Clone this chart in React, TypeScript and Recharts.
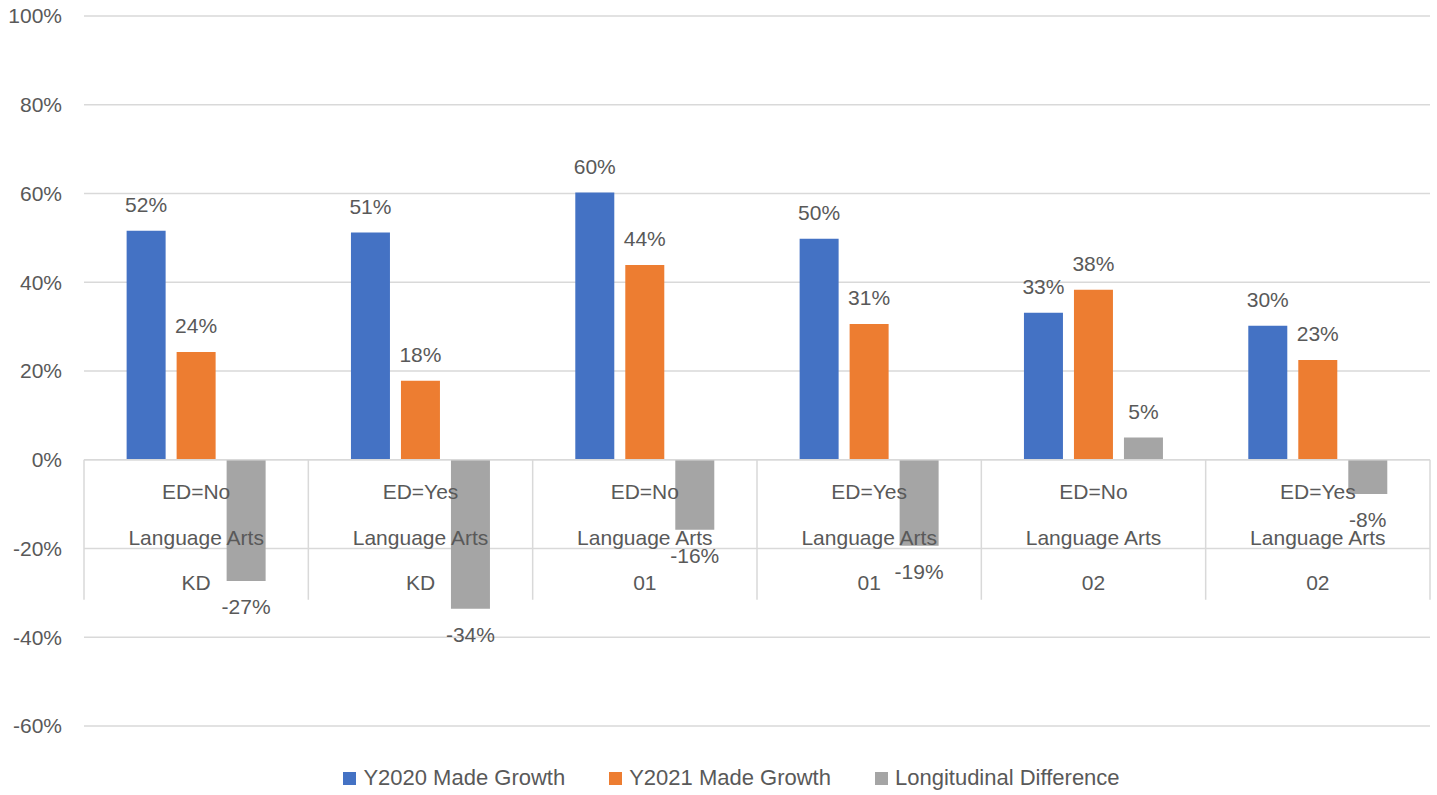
import React from "react";
import { BarChart, Bar, XAxis, YAxis, CartesianGrid, Legend, LabelList, ReferenceLine } from "recharts";

const edStatus = ["ED=No", "ED=Yes", "ED=No", "ED=Yes", "ED=No", "ED=Yes"];
const subjects = ["Language Arts", "Language Arts", "Language Arts", "Language Arts", "Language Arts", "Language Arts"];
const grades = ["KD", "KD", "01", "01", "02", "02"];

const y2020 = [0.516, 0.512, 0.602, 0.498, 0.331, 0.302];
const y2021 = [0.243, 0.178, 0.439, 0.306, 0.383, 0.225];
const diff = [-0.273, -0.336, -0.158, -0.194, 0.05, -0.077];

const yTicks = [-0.6, -0.4, -0.2, 0, 0.2, 0.4, 0.6, 0.8, 1.0];

const series = [
  { key: "y2020", name: "Y2020 Made Growth", color: "#4472C4" },
  { key: "y2021", name: "Y2021 Made Growth", color: "#ED7D31" },
  { key: "diff", name: "Longitudinal Difference", color: "#A5A5A5" },
];

const data = grades.map((g, i) => ({
  cat: `${edStatus[i]}|${subjects[i]}|${g}`,
  y2020: y2020[i],
  y2021: y2021[i],
  diff: diff[i],
}));

const FONT = "'Liberation Sans', Arial, sans-serif";
const TEXT = "#595959";
const GRID = "#d9d9d9";

const pct = (v: number) => `${Math.round(v * 100)}%`;

function ValueLabel(props: any) {
  const { x, y, width, height, value } = props;
  const top = Math.min(y, y + height);
  const bottom = Math.max(y, y + height);
  const cy = value >= 0 ? top - 26 : bottom + 26;
  return (
    <text x={x + width / 2} y={cy} textAnchor="middle" dominantBaseline="central" fill={TEXT} fontSize={21} fontFamily={FONT}>
      {pct(value)}
    </text>
  );
}

// multi-level category axis drawn along the zero line
function CategoryAxis(props: any) {
  const vb = props.viewBox || {};
  const { x, y, width } = vb;
  if (x == null) return null;
  const n = grades.length;
  const step = width / n;
  const depth = 140;
  return (
    <g>
      {Array.from({ length: n + 1 }).map((_, i) => (
        <line key={"s" + i} x1={x + step * i} x2={x + step * i} y1={y} y2={y + depth} stroke={GRID} strokeWidth={1.5} />
      ))}
      {grades.map((g, i) => {
        const cx = x + step * i + step / 2;
        return (
          <g key={i} fill={TEXT} fontSize={21} fontFamily={FONT}>
            <text x={cx} y={y + 32} textAnchor="middle" dominantBaseline="central">{edStatus[i]}</text>
            <text x={cx} y={y + 78} textAnchor="middle" dominantBaseline="central">{subjects[i]}</text>
            <text x={cx} y={y + 123} textAnchor="middle" dominantBaseline="central">{g}</text>
          </g>
        );
      })}
    </g>
  );
}

function LegendContent() {
  return (
    <div style={{ display: "flex", justifyContent: "center", alignItems: "center", height: 24, paddingLeft: 26, fontFamily: FONT, fontSize: 22, color: TEXT }}>
      {series.map((s, i) => (
        <div key={s.key} style={{ display: "flex", alignItems: "center", marginLeft: i === 0 ? 0 : 44 }}>
          <span style={{ width: 13, height: 13, background: s.color, display: "inline-block", marginRight: 7 }} />
          <span style={{ lineHeight: "24px" }}>{s.name}</span>
        </div>
      ))}
    </div>
  );
}

export default function App() {
  return (
    <div style={{ position: "absolute", left: 0, top: 0, width: 1437, height: 795, background: "#fff" }}>
      <BarChart
        width={1437}
        height={795}
        data={data}
        margin={{ top: 16, right: 7, bottom: 45, left: 0 }}
        barCategoryGap="19%"
        barGap={11}
      >
        <CartesianGrid vertical={false} stroke={GRID} strokeWidth={1.5} />
        <XAxis dataKey="cat" hide />
        <YAxis
          width={84}
          domain={[-0.6, 1.0]}
          ticks={yTicks}
          tickFormatter={pct}
          axisLine={false}
          tickLine={false}
          tickSize={0}
          tickMargin={22}
          tick={{ fill: TEXT, fontSize: 21, fontFamily: FONT }}
          allowDataOverflow
        />
        {series.map((s) => (
          <Bar key={s.key} dataKey={s.key} name={s.name} fill={s.color} isAnimationActive={false}>
            <LabelList dataKey={s.key} content={<ValueLabel />} />
          </Bar>
        ))}
        <ReferenceLine y={0} stroke={GRID} strokeWidth={1.5} label={<CategoryAxis />} />
        <Legend verticalAlign="bottom" content={<LegendContent />} wrapperStyle={{ bottom: 5, left: 0, width: 1437 }} />
      </BarChart>
    </div>
  );
}
